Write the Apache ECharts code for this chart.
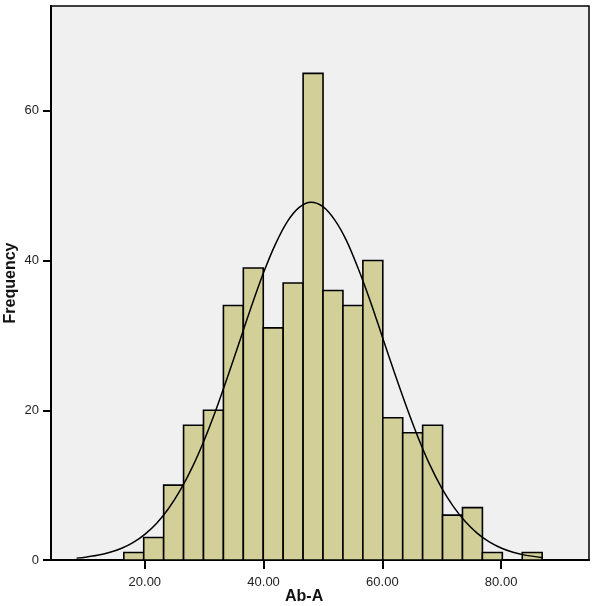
<!DOCTYPE html>
<html>
<head>
<meta charset="utf-8">
<script src="https://cdn.jsdelivr.net/npm/echarts@6/dist/echarts.min.js"></script>
<style>
  html, body { margin: 0; padding: 0; background: #ffffff; }
  #chart { width: 600px; height: 606px; }
</style>
</head>
<body>
<div id="chart"></div>
<script>
// Histogram counts (bins of equal width starting at binStart)
const counts = [1, 3, 10, 18, 20, 34, 39, 31, 37, 65, 36, 34, 40, 19, 17, 18, 6, 7, 1, 0, 1];
const binStart = 16.46;
const binWidth = 3.355;

// Fitted normal curve
const curveX = [8.5, 10, 12, 14, 16, 18, 20, 22, 24, 26, 28, 30, 32, 34, 36, 38, 40, 42, 44, 46, 48,
                50, 52, 54, 56, 58, 60, 62, 64, 66, 68, 70, 72, 74, 76, 78, 80, 82, 84, 87];
const curveY = [0.25, 0.38, 0.62, 0.99, 1.53, 2.32, 3.43, 4.92, 6.88, 9.36, 12.4, 16.0, 20.1, 24.6, 29.3, 34.0, 38.4, 42.2, 45.2, 47.1, 47.8,
                47.2, 45.4, 42.6, 38.8, 34.5, 29.8, 25.1, 20.6, 16.4, 12.7, 9.6, 7.1, 5.1, 3.56, 2.42, 1.6, 1.03, 0.65, 0.31];

// Axis ticks
const xTicks = [20, 40, 60, 80];
const yTicks = [0, 20, 40, 60];

const xTitle = 'Ab-A';
const yTitle = 'Frequency';

const barData = counts.map((c, i) => [binStart + i * binWidth, binStart + (i + 1) * binWidth, c]);
const curveData = curveX.map((x, i) => [x, curveY[i]]);

const chart = echarts.init(document.getElementById('chart'), null, { renderer: 'canvas' });
const labelFont = 'Liberation Sans, Arial, sans-serif';

chart.setOption({
  animation: false,
  backgroundColor: '#ffffff',
  grid: {
    left: 51, right: 11, top: 6, bottom: 46,
    containLabel: false,
    outerBoundsMode: 'none',
    show: true,
    backgroundColor: '#f0f0f0',
    borderColor: '#000000',
    borderWidth: 1.5
  },
  xAxis: {
    type: 'value',
    min: 4.2,
    max: 94.8,
    splitLine: { show: false },
    axisLine: { show: true, lineStyle: { color: '#000', width: 2 } },
    axisTick: { show: true, customValues: xTicks, length: 9, lineStyle: { color: '#000', width: 2 } },
    axisLabel: {
      customValues: xTicks,
      formatter: v => Number(v).toFixed(2),
      fontFamily: labelFont, fontSize: 13, color: '#222', margin: 16
    }
  },
  yAxis: {
    type: 'value',
    min: 0,
    max: 74,
    splitLine: { show: false },
    axisLine: { show: true, lineStyle: { color: '#000', width: 2 } },
    axisTick: { show: true, customValues: yTicks, length: 8, lineStyle: { color: '#000', width: 2 } },
    axisLabel: {
      customValues: yTicks,
      fontFamily: labelFont, fontSize: 13, color: '#222', margin: 12
    }
  },
  graphic: [
    {
      type: 'text',
      left: 285,
      top: 589,
      style: { text: xTitle, font: 'bold 16px ' + labelFont, fill: '#111' }
    },
    {
      type: 'text',
      x: 11,
      y: 283,
      rotation: Math.PI / 2,
      style: { text: yTitle, font: 'bold 16px ' + labelFont, fill: '#111', align: 'center', verticalAlign: 'middle' }
    }
  ],
  series: [
    {
      type: 'custom',
      data: barData,
      encode: { x: [0, 1], y: 2 },
      z: 2,
      renderItem: function (params, api) {
        if (api.value(2) <= 0) return null;
        const p0 = api.coord([api.value(0), api.value(2)]);
        const p1 = api.coord([api.value(1), 0]);
        return {
          type: 'rect',
          shape: { x: p0[0], y: p0[1], width: p1[0] - p0[0], height: p1[1] - p0[1] },
          style: { fill: '#d3cf99', stroke: '#000', lineWidth: 1.6 }
        };
      }
    },
    {
      type: 'line',
      data: curveData,
      smooth: 0.3,
      showSymbol: false,
      symbol: 'none',
      z: 3,
      lineStyle: { color: '#000', width: 1.5 }
    }
  ]
});
</script>
</body>
</html>
